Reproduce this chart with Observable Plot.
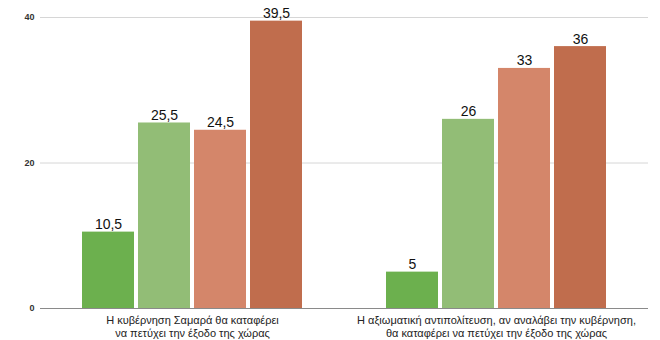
<!DOCTYPE html>
<html>
<head>
<meta charset="utf-8">
<script src="https://cdn.jsdelivr.net/npm/d3@7"></script>
<script src="https://cdn.jsdelivr.net/npm/@observablehq/plot@0.6"></script>
<style>
  html, body { margin: 0; padding: 0; background: #fff; }
</style>
</head>
<body>
<div id="chart"></div>
<script>
const groups = [
  "Η κυβέρνηση Σαμαρά θα καταφέρει\nνα πετύχει την έξοδο της χώρας",
  "Η αξιωματική αντιπολίτευση, αν αναλάβει την κυβέρνηση,\nθα καταφέρει να πετύχει την έξοδο της χώρας"
];
const series = ["Σίγουρα ναι", "Μάλλον ναι", "Μάλλον όχι", "Σίγουρα όχι"];
const valuesGroup1 = [10.5, 25.5, 24.5, 39.5];
const valuesGroup2 = [5, 26, 33, 36];
const yTicks = [0, 20, 40];
const seriesColors = ["#6cb04e", "#92bd76", "#d4866a", "#c06d4d"];

const allValues = [valuesGroup1, valuesGroup2];
const data = groups.flatMap((g, i) => series.map((s, j) => ({group: g, series: s, value: allValues[i][j]})));
const fmt = v => String(v).replace(".", ",");

const chart = Plot.plot({
  width: 660,
  height: 340,
  marginLeft: 39,
  marginRight: 12,
  marginTop: 17,
  marginBottom: 32,
  style: {fontFamily: "'Liberation Sans', Arial, sans-serif", background: "#fff", color: "#222"},
  fx: {domain: groups, padding: 0, label: null},
  x: {domain: series, axis: null, paddingInner: 0.08, paddingOuter: 0.73},
  y: {domain: [0, 40], label: null},
  color: {domain: series, range: seriesColors},
  marks: [
    Plot.gridY(yTicks.filter(d => d > 0), {stroke: "#d6d6d6", strokeOpacity: 1}),
    Plot.axisY(yTicks, {tickSize: 0, tickPadding: 6, fontSize: 9, fontWeight: "bold", fill: "#333", label: null}),
    Plot.axisFx({anchor: "bottom", tickSize: 0, tickPadding: 6, fontSize: 11, lineHeight: 1.2, fill: "#222", label: null}),
    Plot.barY(data, {fx: "group", x: "series", y: "value", fill: "series"}),
    Plot.ruleY([0], {stroke: "#8a8a8a"}),
    Plot.text(data, {fx: "group", x: "series", y: "value", text: d => fmt(d.value), dy: -3, lineAnchor: "bottom", fontSize: 14, fill: "#111"})
  ]
});
document.getElementById("chart").appendChild(chart);
</script>
</body>
</html>
